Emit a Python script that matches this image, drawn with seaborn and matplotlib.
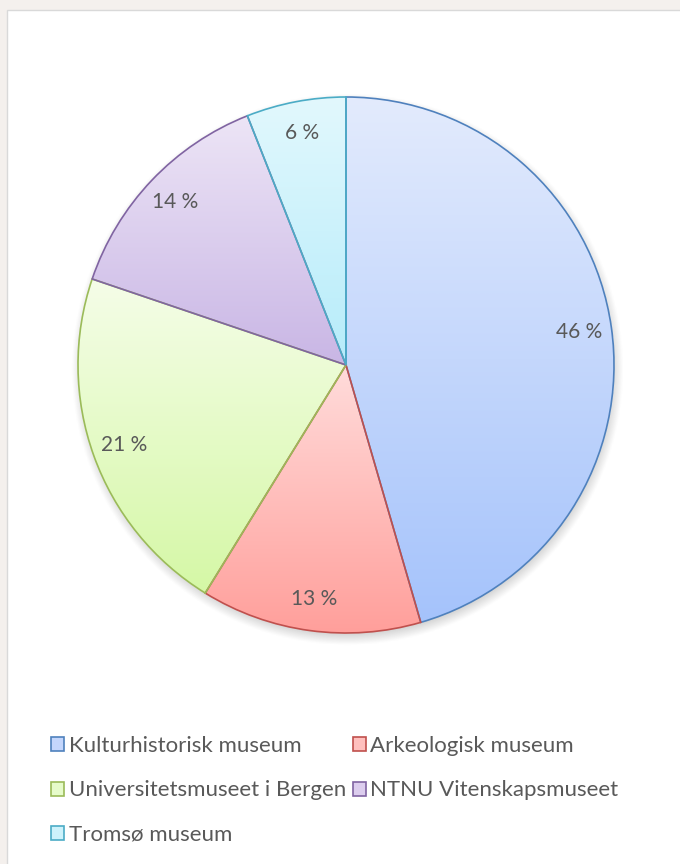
import numpy as np
import matplotlib
matplotlib.use("Agg")
import matplotlib.pyplot as plt
from matplotlib.patches import Patch, Rectangle
from matplotlib.colors import to_rgba
import seaborn as sns

# ---- data ----
museums = ["Kulturhistorisk museum", "Arkeologisk museum", "Universitetsmuseet i Bergen",
           "NTNU Vitenskapsmuseet", "Tromsø museum"]
shares = [45.5, 13.3, 21.4, 13.8, 6.0]

# ---- style ----
edge_colors = ["#4f81bd", "#c0504d", "#9bbb59", "#8064a2", "#4bacc6"]
top_colors = ["#e3ebfd", "#ffdcdb", "#f5fde8", "#ede5f6", "#e2f8fd"]
bottom_colors = ["#a5c3fb", "#ff9f9b", "#d5f8a6", "#c9b6e5", "#b6ecfa"]
mid_colors = ["#c4d6fc", "#ffc0be", "#e6fbca", "#dccdee", "#cdf2fb"]
text_color = "#595959"

sns.set_theme(style="white")
plt.rcParams["font.family"] = ["Lato", "DejaVu Sans"]

W, H = 680, 864
fig = plt.figure(figsize=(W / 100, H / 100), dpi=100)
fig.patch.set_facecolor("#f4f0ed")
fig.patches.append(Rectangle((7 / W, -0.01), 1.0, (H - 10) / H + 0.01, transform=fig.transFigure,
                             facecolor="white", edgecolor="#d9d9d9", linewidth=1.0, zorder=-5))

cx, cy, R = 346, 365, 268
lim = 1.15
size = R * lim
ax = fig.add_axes([(cx - size) / W, (H - cy - size) / H, 2 * size / W, 2 * size / H])
ax.set_facecolor("none")

wedges, texts, autotexts = ax.pie(
    shares, startangle=90, counterclock=False, radius=1.0,
    autopct=lambda p: f"{p:.0f} %", pctdistance=0.88,
    colors=["none"] * len(shares),
    wedgeprops=dict(linewidth=1.2, zorder=3),
    textprops=dict(color=text_color, fontsize=15),
)
ax.set_xlim(-lim, lim)
ax.set_ylim(-lim, lim)
ax.axis("off")

# soft shadow under the pie
n = 400
xs = np.linspace(-lim, lim, n)
X, Y = np.meshgrid(xs, xs)
d = np.sqrt((X - 0.004) ** 2 + (Y + 0.018) ** 2)
alpha = np.clip((1.03 - d) / 0.05, 0, 1) * 0.35
shadow = np.zeros((n, n, 4))
shadow[..., :3] = 0.45
shadow[..., 3] = alpha
ax.imshow(shadow, extent=[-lim, lim, -lim, lim], origin="lower", zorder=0.5, interpolation="bilinear")
base = np.zeros((n, n, 4))
base[..., :3] = 1.0
base[..., 3] = (np.sqrt(X ** 2 + Y ** 2) <= 1.0).astype(float)
ax.imshow(base, extent=[-lim, lim, -lim, lim], origin="lower", zorder=0.6, interpolation="bilinear")

for w, ec, tc, bc in zip(wedges, edge_colors, top_colors, bottom_colors):
    w.set_edgecolor(ec)
    w.set_facecolor("none")
    t = np.radians(np.linspace(w.theta1, w.theta2, 200))
    px = np.concatenate([[0], np.cos(t)])
    py = np.concatenate([[0], np.sin(t)])
    x0, x1, y0, y1 = px.min(), px.max(), py.min(), py.max()
    m = 256
    frac = np.linspace(0, 1, m)[:, None]
    c0 = np.array(to_rgba(tc)); c1 = np.array(to_rgba(bc))
    grad = (c0 * (1 - frac) + c1 * frac)[:, None, :]
    im = ax.imshow(grad, extent=[x0, x1, y0, y1], origin="upper", aspect="auto",
                   zorder=2, interpolation="bilinear")
    im.set_clip_path(w)

for t in autotexts:
    t.set_zorder(5)

order = [0, 2, 4, 1, 3]
handles = [Patch(facecolor=mid_colors[i], edgecolor=edge_colors[i], linewidth=1.2, label=museums[i])
           for i in order]
leg = fig.legend(handles=handles, loc="upper left", bbox_to_anchor=(51 / W, (H - 736) / H),
                 ncol=2, frameon=False, fontsize=16, handlelength=0.6, handleheight=0.6,
                 handletextpad=0.2, columnspacing=0.3, labelspacing=1.1, borderaxespad=0,
                 borderpad=0)
for txt in leg.get_texts():
    txt.set_color(text_color)

fig.savefig("out.png", dpi=100)
